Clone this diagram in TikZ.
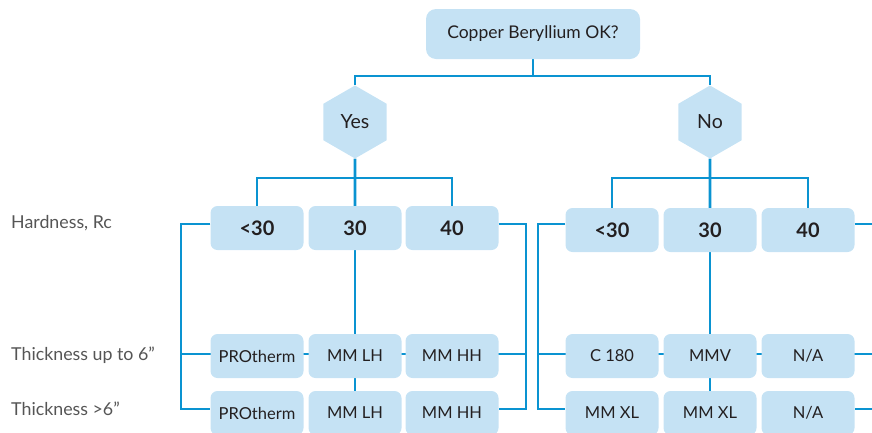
\documentclass[tikz,border=0pt]{standalone}
\usepackage{fontspec}
\setmainfont{Lato}
\usepackage{tikz}
\usetikzlibrary{positioning, shapes.geometric, backgrounds}
\definecolor{boxblue}{HTML}{C5E2F4}
\definecolor{linkblue}{HTML}{0A93D1}
\definecolor{inkgrey}{HTML}{231F20}
\definecolor{labelgrey}{HTML}{555555}
\tikzstyle{cell}=[rectangle,rounded corners=7pt,fill=boxblue,text=inkgrey,minimum width=93pt,minimum height=44pt,inner sep=0pt,font=\fontsize{16.5}{16.5}\selectfont]
\tikzstyle{hardcell}=[cell,font=\fontsize{20}{20}\selectfont\bfseries]
\tikzstyle{hexa}=[regular polygon,regular polygon sides=6,shape border rotate=30,minimum size=73pt,inner sep=0pt,fill=boxblue,text=inkgrey,font=\fontsize{19.5}{19.5}\selectfont]
\tikzstyle{tree}=[line width=2.7pt,color=linkblue]
\tikzstyle{bracket}=[line width=2.2pt,color=linkblue]
\tikzstyle{rowline}=[line width=1.3pt,color=linkblue]
\tikzstyle{rowlabel}=[anchor=west,inner sep=0pt,text=labelgrey,font=\fontsize{17.8}{17.8}\selectfont]

\begin{document}
\begin{tikzpicture}[x=1pt,y=-1pt]
  \useasboundingbox (0,0) rectangle (872,432);
  % question and answers
  \node[cell,minimum width=214pt,minimum height=50pt,rounded corners=10pt,font=\fontsize{17.5}{17.5}\selectfont] (q) at (533,34) {Copper Beryllium OK?};
  \node[hexa] (yes) at (355,122) {Yes};
  \node[hexa] (no) at (710,122) {No};
  \coordinate (qj) at (533,76);
  \coordinate (yj) at (355,178);
  \coordinate (nj) at (710,178);
  % hardness row
  \node[hardcell] (ylt) at (257,228) {<30};
  \node[hardcell] (y30) at (355,228) {30};
  \node[hardcell] (y40) at (452,228) {40};
  \node[hardcell] (nlt) at (612,230) {<30};
  \node[hardcell] (n30) at (710,230) {30};
  \node[hardcell] (n40) at (808,230) {40};
  % thickness rows
  \node[cell] (ya1) at (257,356) {PROtherm};
  \node[cell] (ya2) at (355,356) {MM LH};
  \node[cell] (ya3) at (452,356) {MM HH};
  \node[cell] (yb1) at (257,413) {PROtherm};
  \node[cell] (yb2) at (355,413) {MM LH};
  \node[cell] (yb3) at (452,413) {MM HH};
  \node[cell] (na1) at (612,356) {C 180};
  \node[cell] (na2) at (710,356) {MMV};
  \node[cell] (na3) at (808,356) {N/A};
  \node[cell] (nb1) at (612,413) {MM XL};
  \node[cell] (nb2) at (710,413) {MM XL};
  \node[cell] (nb3) at (808,413) {N/A};
  % row labels
  \node[rowlabel] (lhard) at (11,223) {Hardness, Rc};
  \node[rowlabel] (lthin) at (11,355) {Thickness up to 6”};
  \node[rowlabel] (lthick) at (11,409) {Thickness >6”};

  \begin{scope}[on background layer]
    \draw[tree] (q) -- (qj);
    \draw[tree] (yes.north) |- (qj) -| (no.north);
    \draw[tree] (yes) -- (y30);
    \draw[tree] (ylt.north) |- (yj) -| (y40.north);
    \draw[tree] (no) -- (n30);
    \draw[tree] (nlt.north) |- (nj) -| (n40.north);
    \draw[tree] (y30) -- (yb2);
    \draw[tree] (n30) -- (nb2);
    \draw[rowline] ([xshift=-29pt,yshift=2pt]ya1.west) -- ([xshift=27pt,yshift=2pt]ya3.east);
    \draw[rowline] ([xshift=-27pt,yshift=2pt]na1.west) -- ([xshift=30pt,yshift=2pt]na3.east);
  \end{scope}
  \draw[bracket] ([yshift=4pt]ylt.west) -- ++(-29,0) |- ([yshift=4pt]yb1.west);
  \draw[bracket] ([yshift=4pt]y40.east) -- ++(27,0) |- ([yshift=4pt]yb3.east);
  \draw[bracket] ([yshift=6pt]nlt.west) -- ++(-27,0) |- ([yshift=4pt]nb1.west);
  \draw[bracket] ([yshift=6pt]n40.east) -- ++(30,0) |- ([yshift=4pt]nb3.east);
\end{tikzpicture}
\end{document}
